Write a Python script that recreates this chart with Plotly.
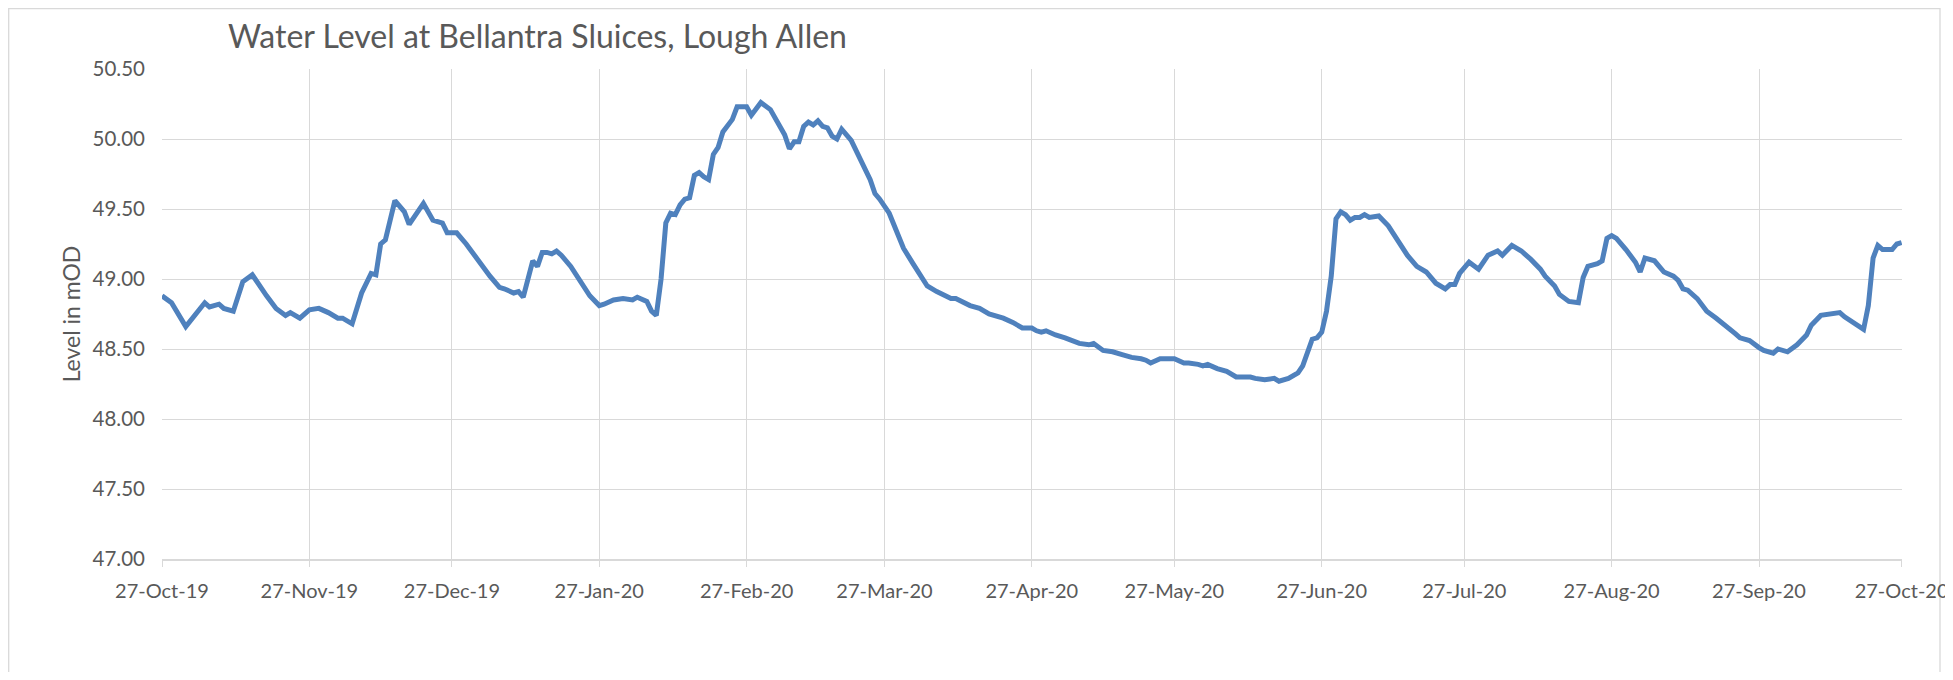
import plotly.graph_objects as go

# ---- data ----
dates = [
    "2019-10-27", "2019-10-29", "2019-11-01", "2019-11-04", "2019-11-05", "2019-11-06", "2019-11-08",
    "2019-11-09", "2019-11-11", "2019-11-13", "2019-11-15", "2019-11-18", "2019-11-20", "2019-11-22",
    "2019-11-23", "2019-11-25", "2019-11-27", "2019-11-29", "2019-12-01", "2019-12-03", "2019-12-04",
    "2019-12-06", "2019-12-07", "2019-12-08", "2019-12-10", "2019-12-11", "2019-12-12", "2019-12-13",
    "2019-12-15", "2019-12-17", "2019-12-18", "2019-12-20", "2019-12-21", "2019-12-23", "2019-12-25",
    "2019-12-26", "2019-12-28", "2019-12-30", "2020-01-02", "2020-01-03", "2020-01-04", "2020-01-06",
    "2020-01-07", "2020-01-09", "2020-01-10", "2020-01-11", "2020-01-12", "2020-01-13", "2020-01-14",
    "2020-01-15", "2020-01-16", "2020-01-17", "2020-01-18", "2020-01-19", "2020-01-21", "2020-01-23",
    "2020-01-25", "2020-01-27", "2020-01-28", "2020-01-30", "2020-02-01", "2020-02-03", "2020-02-04",
    "2020-02-06", "2020-02-07", "2020-02-08", "2020-02-09", "2020-02-10", "2020-02-11", "2020-02-12",
    "2020-02-13", "2020-02-14", "2020-02-15", "2020-02-16", "2020-02-17", "2020-02-18", "2020-02-19",
    "2020-02-20", "2020-02-21", "2020-02-22", "2020-02-23", "2020-02-24", "2020-02-25", "2020-02-27",
    "2020-02-28", "2020-03-01", "2020-03-03", "2020-03-04", "2020-03-06", "2020-03-07", "2020-03-08",
    "2020-03-09", "2020-03-10", "2020-03-11", "2020-03-12", "2020-03-13", "2020-03-14", "2020-03-15",
    "2020-03-16", "2020-03-17", "2020-03-18", "2020-03-20", "2020-03-22", "2020-03-24", "2020-03-25",
    "2020-03-26", "2020-03-28", "2020-03-29", "2020-03-31", "2020-04-02", "2020-04-04", "2020-04-05",
    "2020-04-07", "2020-04-09", "2020-04-10", "2020-04-11", "2020-04-14", "2020-04-16", "2020-04-18",
    "2020-04-21", "2020-04-23", "2020-04-25", "2020-04-27", "2020-04-28", "2020-04-29", "2020-04-30",
    "2020-05-02", "2020-05-04", "2020-05-06", "2020-05-07", "2020-05-09", "2020-05-10", "2020-05-12",
    "2020-05-14", "2020-05-16", "2020-05-18", "2020-05-20", "2020-05-21", "2020-05-22", "2020-05-24",
    "2020-05-25", "2020-05-27", "2020-05-29", "2020-05-30", "2020-06-01", "2020-06-02", "2020-06-03",
    "2020-06-05", "2020-06-07", "2020-06-09", "2020-06-12", "2020-06-13", "2020-06-15", "2020-06-17",
    "2020-06-18", "2020-06-20", "2020-06-22", "2020-06-23", "2020-06-25", "2020-06-26", "2020-06-27",
    "2020-06-28", "2020-06-29", "2020-06-30", "2020-07-01", "2020-07-02", "2020-07-03", "2020-07-04",
    "2020-07-05", "2020-07-06", "2020-07-07", "2020-07-09", "2020-07-11", "2020-07-13", "2020-07-15",
    "2020-07-17", "2020-07-19", "2020-07-21", "2020-07-23", "2020-07-24", "2020-07-25", "2020-07-26",
    "2020-07-28", "2020-07-30", "2020-08-01", "2020-08-03", "2020-08-04", "2020-08-06", "2020-08-08",
    "2020-08-10", "2020-08-12", "2020-08-13", "2020-08-15", "2020-08-16", "2020-08-18", "2020-08-20",
    "2020-08-21", "2020-08-22", "2020-08-24", "2020-08-25", "2020-08-26", "2020-08-27", "2020-08-28",
    "2020-08-30", "2020-09-01", "2020-09-02", "2020-09-03", "2020-09-05", "2020-09-07", "2020-09-09",
    "2020-09-10", "2020-09-11", "2020-09-12", "2020-09-14", "2020-09-16", "2020-09-18", "2020-09-20",
    "2020-09-22", "2020-09-23", "2020-09-25", "2020-09-27", "2020-09-28", "2020-09-30", "2020-10-01",
    "2020-10-03", "2020-10-05", "2020-10-07", "2020-10-08", "2020-10-10", "2020-10-12", "2020-10-14",
    "2020-10-15", "2020-10-17", "2020-10-19", "2020-10-20", "2020-10-21", "2020-10-22", "2020-10-23",
    "2020-10-25", "2020-10-26", "2020-10-27",
]

levels = [
    48.88, 48.83, 48.66, 48.79, 48.83, 48.80, 48.82,
    48.79, 48.77, 48.98, 49.03, 48.88, 48.79, 48.74,
    48.76, 48.72, 48.78, 48.79, 48.76, 48.72, 48.72,
    48.68, 48.78, 48.90, 49.04, 49.03, 49.25, 49.28,
    49.56, 49.48, 49.39, 49.50, 49.54, 49.42, 49.40,
    49.33, 49.33, 49.25, 49.11, 49.06, 49.02, 48.94,
    48.93, 48.90, 48.91, 48.87, 49.02, 49.13, 49.09,
    49.19, 49.19, 49.18, 49.20, 49.17, 49.09, 48.99,
    48.88, 48.81, 48.82, 48.85, 48.86, 48.85, 48.87,
    48.84, 48.77, 48.74, 49.00, 49.40, 49.47, 49.46,
    49.53, 49.57, 49.58, 49.74, 49.76, 49.73, 49.71,
    49.89, 49.94, 50.05, 50.09, 50.14, 50.23, 50.23,
    50.17, 50.26, 50.21, 50.15, 50.03, 49.93, 49.98,
    49.98, 50.09, 50.12, 50.10, 50.13, 50.09, 50.08,
    50.02, 50.00, 50.07, 49.99, 49.84, 49.71, 49.61,
    49.57, 49.47, 49.38, 49.22, 49.11, 49.01, 48.95,
    48.91, 48.88, 48.86, 48.86, 48.81, 48.79, 48.75,
    48.72, 48.69, 48.65, 48.65, 48.63, 48.62, 48.63,
    48.60, 48.58, 48.55, 48.54, 48.53, 48.54, 48.49,
    48.48, 48.46, 48.44, 48.43, 48.42, 48.40, 48.43,
    48.43, 48.43, 48.40, 48.40, 48.39, 48.38, 48.39,
    48.36, 48.34, 48.30, 48.30, 48.29, 48.28, 48.29,
    48.27, 48.29, 48.33, 48.38, 48.57, 48.58, 48.62,
    48.77, 49.02, 49.43, 49.48, 49.46, 49.42, 49.44,
    49.44, 49.46, 49.44, 49.45, 49.38, 49.27, 49.17,
    49.09, 49.05, 48.97, 48.93, 48.96, 48.96, 49.04,
    49.12, 49.07, 49.17, 49.20, 49.17, 49.24, 49.20,
    49.14, 49.07, 49.02, 48.95, 48.89, 48.84, 48.83,
    49.01, 49.09, 49.11, 49.13, 49.29, 49.31, 49.29,
    49.21, 49.12, 49.05, 49.15, 49.13, 49.05, 49.02,
    48.99, 48.93, 48.92, 48.86, 48.77, 48.72, 48.67,
    48.61, 48.58, 48.56, 48.51, 48.49, 48.47, 48.50,
    48.48, 48.53, 48.60, 48.67, 48.74, 48.75, 48.76,
    48.73, 48.69, 48.64, 48.81, 49.15, 49.24, 49.21,
    49.21, 49.25, 49.26,
]

tick_dates = [
    "2019-10-27", "2019-11-27", "2019-12-27", "2020-01-27", "2020-02-27", "2020-03-27", "2020-04-27",
    "2020-05-27", "2020-06-27", "2020-07-27", "2020-08-27", "2020-09-27", "2020-10-27",
]
tick_labels = [
    "27-Oct-19", "27-Nov-19", "27-Dec-19", "27-Jan-20", "27-Feb-20", "27-Mar-20", "27-Apr-20",
    "27-May-20", "27-Jun-20", "27-Jul-20", "27-Aug-20", "27-Sep-20", "27-Oct-20",
]
y_ticks = [47.0, 47.5, 48.0, 48.5, 49.0, 49.5, 50.0, 50.5]

title_text = "Water Level at Bellantra Sluices, Lough Allen"
y_title = "Level in mOD"

# ---- figure ----
# The page body has an 8px margin, so the figure is placed 8px in from the
# window's top-left corner; all pixel positions below are figure pixels.
W, H = 1945, 664
ML, MR, MT, MB = 154, 51, 61, 113
GRID = "#d9d9d9"
TXT = "#595959"
FONT = "Lato, 'Open Sans', sans-serif"

fig = go.Figure()
fig.add_trace(go.Scatter(
    x=dates, y=levels, mode="lines",
    line=dict(color="#4f81bd", width=5),
    hoverinfo="x+y", showlegend=False,
))

pw = W - ML - MR
ph = H - MT - MB


def px_x(p):
    return (p - ML) / pw


def px_y(p):
    return (H - MB - p) / ph


# chart-area border (Excel style)
fig.add_shape(type="rect", xref="paper", yref="paper",
              x0=px_x(0.7), x1=px_x(1932), y0=px_y(720), y1=px_y(0.7),
              line=dict(color=GRID, width=1.3), fillcolor="rgba(0,0,0,0)", layer="below")

fig.update_layout(
    width=W, height=H,
    margin=dict(l=ML, r=MR, t=MT, b=MB, autoexpand=False),
    paper_bgcolor="white", plot_bgcolor="white",
    font=dict(family=FONT, color=TXT),
    title=dict(text=title_text, font=dict(size=32, color=TXT, family=FONT),
               x=px_x(220), xref="paper", xanchor="left",
               y=1 - 29 / H, yref="container", yanchor="middle"),
)

fig.update_xaxes(
    type="date",
    range=[tick_dates[0], tick_dates[-1] + " 02:00"],
    tickvals=tick_dates, ticktext=tick_labels,
    showgrid=True, gridcolor=GRID, gridwidth=1.3,
    showline=True, linecolor=GRID, linewidth=2,
    ticks="outside", ticklen=6, tickcolor=GRID, tickwidth=1.3,
    tickfont=dict(size=20, color=TXT, family=FONT),
    ticklabelstandoff=7, ticklabeloverflow="allow",
    zeroline=False, automargin=False,
)

fig.update_yaxes(
    range=[47.0, 50.5],
    tickvals=y_ticks, tickformat=".2f",
    showgrid=True, gridcolor=GRID, gridwidth=1.3,
    showline=False, zeroline=False,
    ticks="", tickfont=dict(size=20.5, color=TXT, family=FONT),
    ticklabelstandoff=16,
    title=dict(text=y_title, font=dict(size=23, color=TXT, family=FONT), standoff=5),
    automargin=False,
)

fig.write_html("out.html")
